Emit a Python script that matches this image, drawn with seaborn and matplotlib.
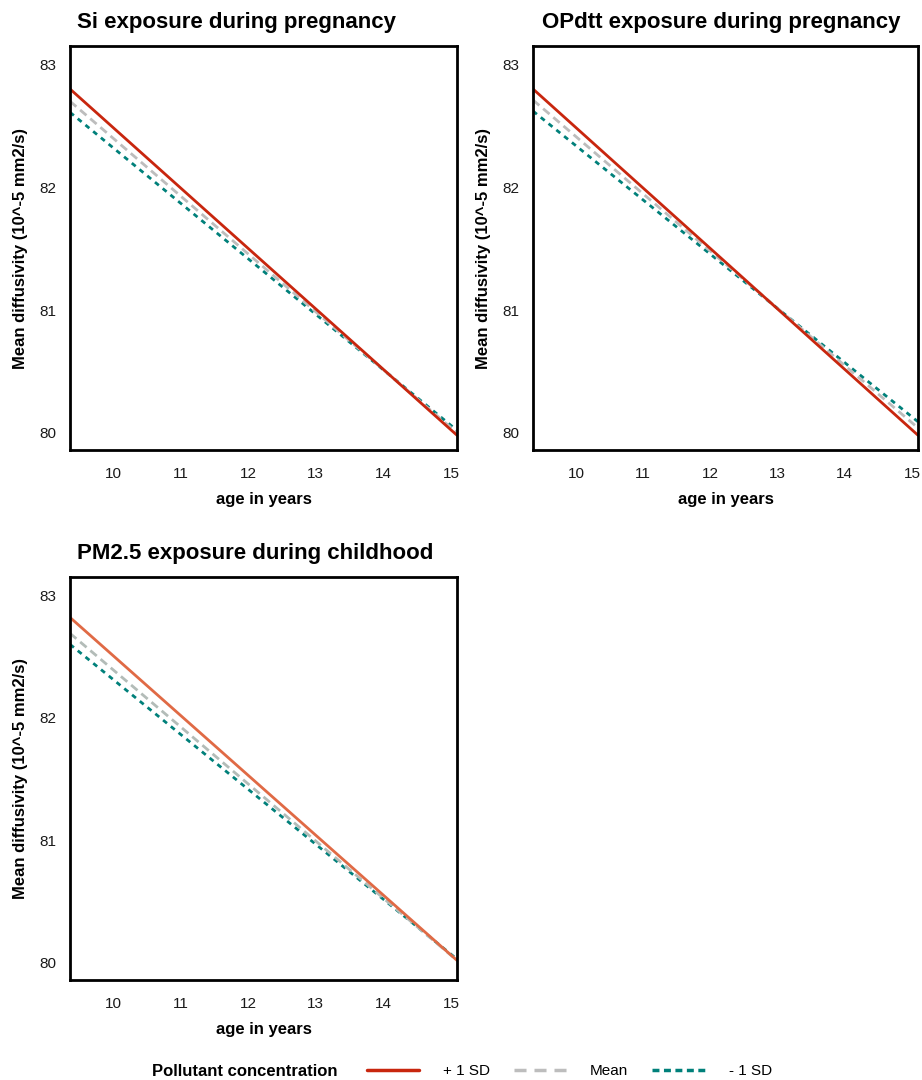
import pandas as pd
import matplotlib
matplotlib.use("Agg")
import matplotlib.pyplot as plt
import seaborn as sns
from matplotlib.lines import Line2D

# data (line ends at the panel edges)
age = [9.36, 15.09]
levels = ["+ 1 SD", "Mean", "- 1 SD"]

si_plus = [82.80, 79.98]
si_mean = [82.70, 80.00]
si_minus = [82.61, 80.02]

opdtt_plus = [82.80, 79.98]
opdtt_mean = [82.71, 80.04]
opdtt_minus = [82.62, 80.09]

pm_plus = [82.82, 80.02]
pm_mean = [82.69, 80.02]
pm_minus = [82.60, 80.03]

titles = ["Si exposure during pregnancy",
          "OPdtt exposure during pregnancy",
          "PM2.5 exposure during childhood"]

sns.set_style("white")
plt.rcParams["font.family"] = ["Liberation Sans", "DejaVu Sans"]
plt.rcParams["text.color"] = "black"


def make_df(plus, mean, minus):
    rows = []
    for lev, vals in zip(levels, [plus, mean, minus]):
        for a, v in zip(age, vals):
            rows.append({"age": a, "md": v, "level": lev})
    return pd.DataFrame(rows)


dfs = [make_df(si_plus, si_mean, si_minus),
       make_df(opdtt_plus, opdtt_mean, opdtt_minus),
       make_df(pm_plus, pm_mean, pm_minus)]

red_top = "#c8260e"
red_bot = "#e06a45"
gray = "#bdbdbd"
teal = "#00807a"
palettes = [
    {"+ 1 SD": red_top, "Mean": gray, "- 1 SD": teal},
    {"+ 1 SD": red_top, "Mean": gray, "- 1 SD": teal},
    {"+ 1 SD": red_bot, "Mean": "#b3bcb8", "- 1 SD": teal},
]
dashes = {"+ 1 SD": "", "Mean": (3, 1.8), "- 1 SD": (1.8, 1.8)}

fig = plt.figure(figsize=(9.22, 10.8), dpi=100)
positions = [
    [70 / 922, 1 - 450 / 1080, 387 / 922, 404 / 1080],
    [533 / 922, 1 - 450 / 1080, 385 / 922, 404 / 1080],
    [70 / 922, 1 - 980 / 1080, 387 / 922, 403 / 1080],
]
# title anchor (left x, baseline y) in pixels
title_xy = [(77, 28), (542, 28), (77, 559)]

for i in range(3):
    ax = fig.add_axes(positions[i])
    # draw back to front so the red line ends up on top
    sns.lineplot(data=dfs[i], x="age", y="md", hue="level", style="level",
                 hue_order=levels[::-1], style_order=levels[::-1],
                 palette=palettes[i], dashes=dashes, linewidth=2,
                 legend=False, ax=ax)
    ax.set_xlim(age[0], age[1])
    ax.set_ylim(79.86, 83.15)
    ax.set_xticks([10, 11, 12, 13, 14, 15])
    ax.set_yticks([80, 81, 82, 83])
    ax.tick_params(axis="both", length=0, labelsize=11, colors="#1a1a1a")
    ax.tick_params(axis="x", pad=12)
    ax.tick_params(axis="y", pad=10)
    for s in ax.spines.values():
        s.set_visible(True)
        s.set_color("black")
        s.set_linewidth(2)
    ax.set_xlabel("age in years", fontsize=12, fontweight="bold",
                  labelpad=8, color="black")
    ax.set_ylabel("Mean diffusivity (10^-5 mm2/s)", fontsize=12,
                  fontweight="bold", labelpad=8, color="black")
    tx, ty = title_xy[i]
    fig.text(tx / 922, 1 - ty / 1080, titles[i], fontsize=16,
             fontweight="bold", ha="left", va="baseline", color="black")

# legend at the bottom
fig.text(152 / 922, 1 - 1071 / 1080, "Pollutant concentration",
         fontsize=12, fontweight="bold", va="center", ha="left")
handles = [
    Line2D([], [], color=red_top, lw=2.5),
    Line2D([], [], color=gray, lw=2.5, dashes=(3.46, 2.3)),
    Line2D([], [], color=teal, lw=2.5, dashes=(2, 1.3)),
]
fig.legend(handles, levels, loc="center left",
           bbox_to_anchor=(353 / 922, 1 - 1071 / 1080), ncol=3,
           frameon=False, fontsize=11, handlelength=3.45, handletextpad=1.55,
           columnspacing=1.55)

fig.savefig("out.png", dpi=100)
plt.close()
